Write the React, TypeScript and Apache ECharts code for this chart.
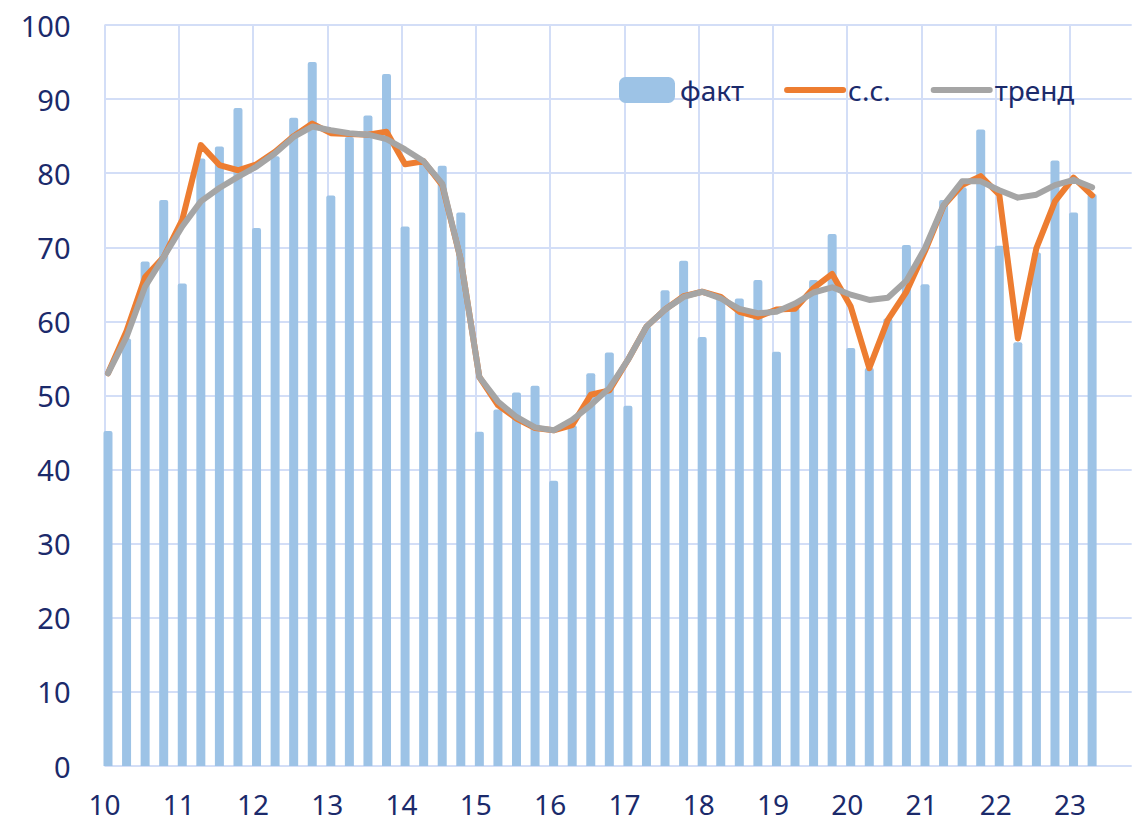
import React, { useEffect, useRef } from "react";
import * as echarts from "echarts";

// Quarterly data, 2010 Q1 – 2023 Q2
const firstYear = 10;
const yearTicks = ["10", "11", "12", "13", "14", "15", "16", "17", "18", "19", "20", "21", "22", "23"];

const fakt = [
  45.2, 57.7, 68.1, 76.4,
  65.1, 82.0, 83.6, 88.8,
  72.6, 82.3, 87.5, 95.0,
  77.0, 84.9, 87.8, 93.4,
  72.8, 81.5, 81.0, 74.7,
  45.1, 48.1, 50.4, 51.3,
  38.5, 46.0, 53.0, 55.8,
  48.6, 59.3, 64.2, 68.2,
  57.9, 63.3, 63.1, 65.6,
  55.9, 61.8, 65.6, 71.8,
  56.4, 53.7, 60.4, 70.3,
  65.0, 76.4, 78.1, 85.9,
  70.2, 57.2, 69.3, 81.7,
  74.7, 77.2,
];

const sezon = [
  53.0, 58.7, 66.0, 68.7,
  73.7, 83.8, 81.1, 80.4,
  81.2, 82.9, 85.0, 86.7,
  85.4, 85.3, 85.2, 85.6,
  81.2, 81.6, 78.4, 68.3,
  52.5, 48.7, 46.9, 45.6,
  45.3, 46.0, 50.1, 50.7,
  54.8, 59.3, 61.6, 63.4,
  64.0, 63.3, 61.3, 60.6,
  61.6, 61.7, 64.5, 66.4,
  62.0, 53.7, 60.2, 64.0,
  69.5, 75.6, 78.4, 79.6,
  77.1, 57.7, 69.9, 76.2,
  79.4, 77.0,
];

const trend = [
  53.0, 57.9, 64.7, 68.7,
  72.8, 76.2, 78.0, 79.5,
  80.9, 82.7, 84.9, 86.3,
  85.8, 85.4, 85.2, 84.6,
  83.2, 81.6, 78.6, 68.3,
  52.5, 49.2, 47.1, 45.7,
  45.3, 46.7, 48.7, 51.0,
  54.8, 59.3, 61.6, 63.3,
  64.0, 63.1, 61.7, 61.1,
  61.3, 62.4, 63.9, 64.6,
  63.6, 62.9, 63.2, 65.5,
  69.9, 75.7, 78.9, 78.9,
  77.7, 76.7, 77.1, 78.4,
  79.1, 78.1,
];

const names = { fakt: "факт", sezon: "с.с.", trend: "тренд" };

const NAVY = "#1B2A6B";
const GRID = "#D3DEF7";
const BAR = "#9DC3E6";
const ORANGE = "#ED7D31";
const GRAY = "#A5A5A5";
const FONT = "'Noto Sans', 'DejaVu Sans', sans-serif";

// position in time of each quarter (year + quarter offset)
const xOf = (i: number) => firstYear + i * 0.25 + 0.047;
const pairs = (vals: number[]) => vals.map((v, i) => [xOf(i), v]);

export default function App() {
  const ref = useRef<HTMLDivElement>(null);

  useEffect(() => {
    if (!ref.current) return;
    const chart = echarts.init(ref.current, null, { renderer: "svg" });
    const tickSet = new Set(yearTicks);
    chart.setOption({
      animation: false,
      backgroundColor: "#ffffff",
      grid: { left: 104.5, right: 13.3, top: 25, bottom: 58, containLabel: false },
      legend: {
        left: 614,
        top: 71,
        itemWidth: 56,
        itemHeight: 26,
        itemGap: 40,
        textStyle: { fontSize: 28, color: NAVY, fontFamily: FONT },
        data: [
          { name: names.fakt, icon: "roundRect", itemStyle: { color: BAR } },
          {
            name: names.sezon,
            itemStyle: { opacity: 0, borderWidth: 0 },
            lineStyle: { width: 6, cap: "round", color: ORANGE },
          },
          {
            name: names.trend,
            itemStyle: { opacity: 0, borderWidth: 0 },
            lineStyle: { width: 6, cap: "round", color: GRAY },
          },
        ],
      },
      xAxis: {
        type: "value",
        min: firstYear,
        max: 23.83,
        interval: 1,
        axisLine: { show: false },
        axisTick: { show: false },
        splitLine: { show: true, showMinLine: true, showMaxLine: false, lineStyle: { color: GRID, width: 2 } },
        axisLabel: {
          margin: 24,
          fontSize: 28,
          lineHeight: 28,
          color: NAVY,
          fontFamily: FONT,
          formatter: (v: number) => {
            const r = Math.round(v);
            if (Math.abs(v - r) > 1e-6) return "";
            const s = String(r);
            return tickSet.has(s) ? s : "";
          },
        },
      },
      yAxis: {
        type: "value",
        min: 0,
        max: 100,
        interval: 10,
        axisLine: { show: false },
        axisTick: { show: false },
        splitLine: { show: true, lineStyle: { color: GRID, width: 2 } },
        axisLabel: { margin: 34, fontSize: 29, color: NAVY, fontFamily: FONT },
      },
      series: [
        {
          name: names.fakt,
          type: "bar",
          barWidth: 9,
          itemStyle: { color: BAR, borderRadius: [2, 2, 0, 0] },
          data: pairs(fakt),
        },
        {
          name: names.sezon,
          type: "line",
          symbol: "none",
          lineStyle: { color: ORANGE, width: 6, join: "round", cap: "round" },
          itemStyle: { color: ORANGE },
          data: pairs(sezon),
        },
        {
          name: names.trend,
          type: "line",
          symbol: "none",
          lineStyle: { color: GRAY, width: 6, join: "round", cap: "round" },
          itemStyle: { color: GRAY },
          data: pairs(trend),
        },
      ],
    });
    return () => chart.dispose();
  }, []);

  return (
    <div
      ref={ref}
      style={{ position: "absolute", left: 0, top: 0, width: 1145, height: 824, background: "#fff" }}
    />
  );
}
